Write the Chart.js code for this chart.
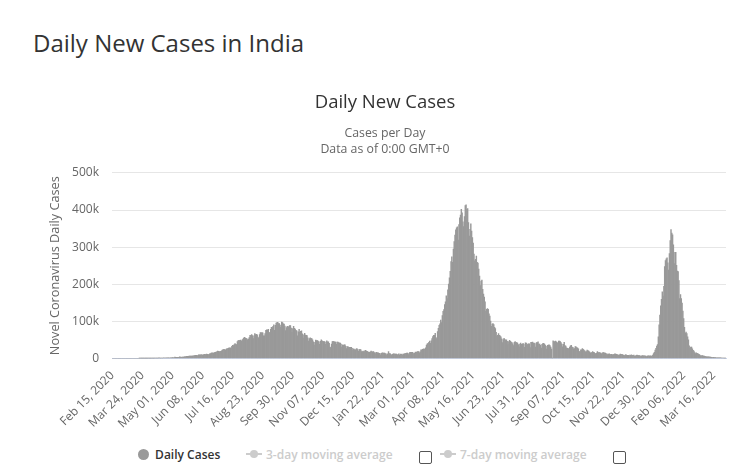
<!DOCTYPE html>
<html>
<head>
<meta charset="utf-8">
<title>Daily New Cases in India</title>
<script src="https://cdn.jsdelivr.net/npm/chart.js@4/dist/chart.umd.min.js"></script>
<style>
  body { margin: 0; background: #fff; font-family: 'Open Sans', sans-serif; }
  #page { position: relative; width: 736px; height: 475px; overflow: hidden; }
  h2 { position: absolute; left: 33px; top: 26px; margin: 0; font-weight: normal; font-size: 24px; color: #333; }
  #wrap { position: absolute; left: 0; top: 84px; width: 736px; height: 349px; }
  .lg { position: absolute; top: 446px; font-size: 12px; white-space: nowrap; }
  .dot { display: inline-block; width: 11px; height: 11px; border-radius: 50%; background: #999; vertical-align: -1px; margin-right: 3px; }
  .sym { display: inline-block; position: relative; width: 16px; height: 10px; margin-right: 4px; vertical-align: 0; }
  .sym::before { content: ''; position: absolute; left: 0; right: 0; top: 4px; height: 2px; background: #ccc; }
  .sym::after { content: ''; position: absolute; left: 4px; top: 1px; width: 8px; height: 8px; border-radius: 50%; background: #ccc; }
  .box { position: absolute; top: 451px; width: 11px; height: 11px; border: 1px solid #555; border-radius: 2px; background: #fff; }
</style>
</head>
<body>
<div id="page">
  <h2>Daily New Cases in India</h2>
  <div id="wrap"><canvas id="chart"></canvas></div>
  <div class="lg" style="left:138px;color:#333;font-weight:600"><span class="dot"></span> Daily Cases</div>
  <div class="lg" style="left:246px;color:#ccc;font-weight:600"><span class="sym"></span>3-day moving average</div>
  <div class="box" style="left:419px"></div>
  <div class="lg" style="left:440px;color:#ccc;font-weight:600"><span class="sym"></span>7-day moving average</div>
  <div class="box" style="left:613px"></div>
</div>
<script>
// daily new cases, in thousands, starting Feb 15, 2020
const dailyCases = [
  // Feb 2020 (from the 15th)
  0, 0, 0, 0, 0, 0, 0, 0, 0, 0, 0, 0, 0, 0, 0,
  // Mar 2020
  0, 0, 0, 0, 0, 0, 0, 0, 0, 0, 0, 0, 0, 0, 0, 0, 0, 0, 0, 0.1,
  0.1, 0.1, 0.1, 0.1, 0.1, 0.1, 0.2, 0.1, 0.1, 0.2, 0.1,
  // Apr 2020
  0.6, 0.5, 0.5, 0.6, 0.5, 0.7, 0.5, 0.6, 0.6, 0.9, 0.9, 0.9, 0.8, 1.5, 1.1,
  0.9, 1.3, 1.1, 1.4, 1.5, 1.3, 1.4, 1.7, 1.4, 1.8, 1.6, 1.4, 1.9, 1.8, 1.7,
  // May 2020
  2.4, 2.1, 2.5, 3.6, 2.9, 3.5, 3.3, 3.3, 3.3, 4.4, 3.6, 3.5, 3.7, 3.9, 3.9, 4.8,
  5.0, 4.6, 6.1, 5.6, 6.1, 6.6, 6.7, 6.8, 6.5, 6.5, 7.3, 7.3, 7.9, 8.4, 8.8,
  // Jun 2020
  7.7, 8.2, 9.6, 9.9, 9.5, 10.9, 9.9, 9.0, 9.9, 11.1, 11.4, 10.9, 11.9, 11.5, 10.0,
  11.0, 12.9, 13.6, 14.5, 15.4, 14.8, 14.8, 15.7, 16.9, 17.3, 18.2, 19.9, 19.5, 18.5, 18.5,
  // Jul 2020
  19.1, 20.9, 22.7, 24.0, 24.9, 23.9, 22.8, 25.6, 26.5, 27.0, 28.2, 28.7, 28.1, 29.0, 32.6, 35.5,
  35.0, 37.4, 40.4, 38.0, 37.8, 45.8, 48.5, 49.3, 48.5, 49.9, 46.5, 49.6, 52.5, 55.1, 57.1,
  // Aug 2020
  55.1, 54.7, 52.9, 50.6, 52.5, 56.3, 62.5, 61.5, 64.4, 62.1, 53.6, 60.9, 66.9, 64.6, 65.0, 63.5,
  57.9, 55.1, 64.5, 69.7, 68.9, 69.9, 69.2, 61.4, 60.9, 67.2, 75.8, 77.3, 76.5, 78.8, 69.9,
  // Sep 2020
  69.9, 78.4, 83.9, 83.3, 86.4, 90.6, 75.8, 89.7, 95.7, 96.6, 97.6, 94.4, 94.4, 83.8, 90.1,
  97.9, 97.0, 93.3, 92.6, 87.4, 75.1, 83.3, 86.5, 86.1, 85.4, 89.0, 88.6, 82.2, 70.6, 80.5,
  // Oct 2020
  86.8, 81.5, 79.5, 75.8, 74.4, 61.3, 72.0, 78.5, 70.5, 73.3, 74.4, 66.7, 55.3, 63.5, 67.7, 63.4,
  62.2, 61.9, 55.7, 46.8, 54.0, 55.8, 54.4, 53.4, 50.1, 45.1, 36.5, 43.9, 49.9, 48.6, 48.3,
  // Nov 2020
  46.9, 45.2, 38.3, 46.3, 50.2, 47.6, 46.2, 45.7, 45.9, 38.1, 44.3, 47.9, 44.9, 44.7, 41.1,
  30.5, 29.2, 38.6, 45.6, 46.2, 45.2, 45.2, 44.1, 37.9, 44.4, 44.5, 43.1, 41.3, 41.8, 38.8,
  // Dec 2020
  31.1, 36.6, 35.6, 36.6, 36.6, 32.9, 26.6, 32.0, 31.5, 29.4, 30.0, 30.3, 30.3, 27.1, 22.1, 26.4,
  24.0, 22.9, 25.2, 26.6, 24.3, 19.6, 23.9, 24.7, 23.1, 18.7, 18.7, 20.0, 16.4, 20.5, 21.8,
  // Jan 2021
  20.0, 19.1, 18.2, 16.5, 16.4, 18.1, 20.3, 18.1, 18.2, 18.6, 16.0, 12.6, 15.9, 16.9, 15.6, 15.2,
  13.8, 13.8, 10.1, 13.8, 15.2, 14.5, 14.3, 14.9, 13.2, 9.1, 12.7, 11.7, 18.9, 13.1, 13.0,
  // Feb 2021
  11.4, 8.6, 11.0, 12.9, 12.4, 11.7, 12.1, 11.8, 9.1, 11.1, 12.9, 9.3, 12.2, 11.4,
  11.6, 9.1, 11.6, 12.9, 13.2, 13.9, 14.3, 14.3, 10.6, 13.7, 16.7, 16.6, 16.5, 16.7,
  // Mar 2021
  15.5, 12.3, 14.9, 17.4, 16.8, 18.3, 18.7, 18.6, 15.4, 17.9, 23.3, 22.9, 24.9, 25.3, 26.3, 24.5,
  28.9, 35.9, 39.7, 40.9, 43.8, 46.9, 40.7, 47.3, 53.5, 59.1, 62.3, 62.7, 68.0, 56.2, 53.5,
  // Apr 2021
  72.3, 81.5, 89.1, 93.2, 103.6, 96.6, 115.7, 126.8, 131.9, 145.4, 152.9, 168.9, 161.7, 185.2, 200.7,
  217.4, 234.7, 261.5, 273.8, 259.2, 295.0, 314.8, 332.7, 346.8, 352.0, 354.5, 319.4, 360.9, 379.3, 386.5,
  // May 2021
  401.9, 392.5, 368.1, 355.8, 382.3, 412.4, 414.2, 401.1, 403.7, 366.2, 329.9, 348.4, 362.7, 343.1, 326.1, 311.2,
  281.4, 263.5, 267.3, 276.1, 259.2, 257.3, 240.8, 222.3, 196.4, 208.9, 211.3, 186.4, 173.8, 165.6, 152.7,
  // Jun 2021
  127.5, 132.8, 134.2, 132.4, 120.5, 114.5, 100.6, 86.5, 92.6, 94.0, 91.7, 84.3, 80.8, 70.4, 60.5,
  62.2, 67.2, 62.5, 60.8, 58.6, 53.3, 42.6, 50.8, 54.1, 51.7, 48.7, 50.0, 46.1, 37.6, 45.9,
  // Jul 2021
  48.8, 46.6, 44.1, 43.1, 39.8, 34.7, 43.7, 45.9, 43.4, 42.8, 41.5, 37.2, 31.4, 38.8, 41.8, 38.1,
  38.1, 41.1, 38.2, 30.1, 42.0, 41.4, 35.3, 39.1, 39.7, 39.4, 29.7, 43.7, 43.5, 44.2, 41.6,
  // Aug 2021
  41.8, 40.1, 30.5, 42.6, 42.9, 44.6, 38.6, 39.1, 35.5, 28.2, 38.4, 40.1, 41.2, 38.7, 36.1, 32.9,
  25.2, 35.2, 36.4, 36.6, 34.5, 30.9, 25.1, 1.2, 47.5, 46.2, 44.7, 46.8, 45.1, 42.9, 41.9,
  // Sep 2021
  47.1, 47.0, 45.4, 42.8, 38.9, 31.2, 37.9, 43.3, 34.9, 33.4, 28.6, 27.3, 25.4, 27.2, 30.6,
  34.4, 35.7, 30.8, 30.3, 26.1, 26.9, 31.9, 31.4, 29.6, 28.3, 26.0, 18.8, 18.9, 23.5, 23.4,
  // Oct 2021
  26.7, 24.4, 22.8, 20.8, 18.3, 18.8, 22.4, 21.3, 19.7, 18.1, 14.3, 15.8, 15.8, 18.9, 16.9, 15.9,
  13.6, 13.1, 14.6, 18.5, 16.3, 15.8, 16.3, 14.3, 12.4, 14.3, 16.2, 16.2, 14.3, 14.3, 12.8,
  // Nov 2021
  12.5, 10.4, 11.9, 12.9, 11.1, 10.9, 11.4, 10.1, 10.8, 11.5, 12.5, 11.9, 11.3, 10.3, 8.9,
  8.9, 10.2, 11.9, 11.1, 10.3, 10.5, 8.5, 7.6, 9.3, 10.5, 8.3, 8.8, 8.8, 6.9, 8.9,
  // Dec 2021
  8.6, 9.8, 8.3, 8.6, 8.9, 6.8, 6.8, 8.4, 9.4, 8.5, 7.8, 7.8, 7.4, 5.8, 6.9, 7.9,
  7.4, 7.2, 7.1, 6.6, 5.3, 6.3, 7.5, 7.2, 6.6, 6.9, 6.3, 6.4, 9.2, 13.2, 16.8,
  // Jan 2022
  22.8, 27.6, 33.8, 37.4, 58.1, 90.9, 117.1, 141.9, 159.6, 179.7, 168.1, 194.7, 247.4, 264.2, 268.8, 271.2,
  258.1, 238.0, 282.9, 317.5, 347.3, 337.7, 333.5, 306.1, 255.9, 285.9, 286.4, 251.2, 235.5, 234.3, 209.9,
  // Feb 2022
  161.4, 172.4, 161.4, 149.4, 127.9, 107.5, 83.9, 67.6, 71.4, 67.1, 58.1, 50.4, 34.1, 27.4,
  30.6, 30.8, 25.9, 22.3, 19.9, 16.1, 13.4, 15.1, 14.1, 13.2, 11.5, 10.3, 8.0, 6.9,
  // Mar 2022
  7.6, 7.6, 6.6, 6.4, 5.9, 5.5, 4.4, 4.6, 4.6, 4.2, 3.6, 3.6, 3.1, 2.5, 2.9, 2.9,
  2.5, 2.5, 2.1, 1.8, 1.5, 1.8, 1.9, 1.7, 1.6, 1.4, 1.3, 1.3, 1.2, 1.2, 1.2
];

const tickLabels = [
  'Feb 15, 2020', 'Mar 24, 2020', 'May 01, 2020', 'Jun 08, 2020', 'Jul 16, 2020',
  'Aug 23, 2020', 'Sep 30, 2020', 'Nov 07, 2020', 'Dec 15, 2020', 'Jan 22, 2021',
  'Mar 01, 2021', 'Apr 08, 2021', 'May 16, 2021', 'Jun 23, 2021', 'Jul 31, 2021',
  'Sep 07, 2021', 'Oct 15, 2021', 'Nov 22, 2021', 'Dec 30, 2021', 'Feb 06, 2022',
  'Mar 16, 2022'
];

const yTicks = [0, 100, 200, 300, 400, 500];

// one category per day
const months = ['Jan', 'Feb', 'Mar', 'Apr', 'May', 'Jun', 'Jul', 'Aug', 'Sep', 'Oct', 'Nov', 'Dec'];
const dates = dailyCases.map((_, i) => {
  const d = new Date(Date.UTC(2020, 1, 15 + i));
  return months[d.getUTCMonth()] + ' ' + String(d.getUTCDate()).padStart(2, '0') + ', ' + d.getUTCFullYear();
});

Chart.defaults.font.family = "'Open Sans', sans-serif";
Chart.defaults.color = '#666';

new Chart(document.getElementById('chart'), {
  type: 'bar',
  data: {
    labels: dates,
    datasets: [{
      label: 'Daily Cases',
      data: dailyCases,
      backgroundColor: '#999',
      borderWidth: 0,
      barPercentage: 1,
      categoryPercentage: 1
    }]
  },
  options: {
    responsive: true,
    maintainAspectRatio: false,
    animation: false,
    layout: { padding: { left: 44, right: 10, top: 0, bottom: 0 } },
    plugins: {
      legend: { display: false },
      tooltip: { enabled: false },
      title: {
        display: true,
        text: 'Daily New Cases',
        color: '#333',
        font: { size: 18.5, weight: 'normal' },
        padding: { top: 8, bottom: 12 }
      },
      subtitle: {
        display: true,
        text: ['Cases per Day', 'Data as of 0:00 GMT+0'],
        color: '#666',
        font: { size: 12.3, weight: 'normal', lineHeight: 1.25 },
        padding: { bottom: 16 }
      }
    },
    scales: {
      x: {
        grid: { display: false },
        border: { display: true, color: '#ccd6eb' },
        ticks: {
          autoSkip: false,
          minRotation: 45,
          maxRotation: 45,
          color: '#666',
          font: { size: 12 },
          padding: 2,
          callback: function (v) {
            const lab = dates[v];
            return tickLabels.includes(lab) ? lab : null;
          }
        }
      },
      y: {
        min: 0,
        max: 500,
        afterBuildTicks: axis => { axis.ticks = yTicks.map(v => ({ value: v })); },
        afterFit: axis => { axis.width = 68; },
        grid: { color: '#e6e6e6', drawTicks: false },
        border: { display: false },
        ticks: {
          color: '#666',
          font: { size: 12 },
          padding: 13,
          callback: v => (v === 0 ? '0' : v + 'k')
        },
        title: {
          display: true,
          text: 'Novel Coronavirus Daily Cases',
          color: '#666',
          font: { size: 12.7 },
          padding: { top: 4, bottom: 9 }
        }
      }
    }
  }
});
</script>
</body>
</html>
